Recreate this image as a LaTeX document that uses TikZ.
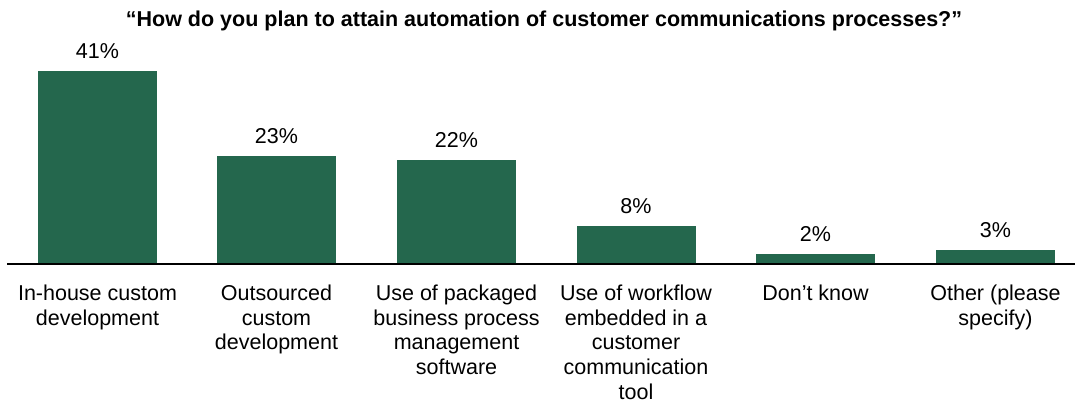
\documentclass[tikz,border=0pt]{standalone}
\usepackage{fontspec}
\setmainfont{Liberation Sans}
\usetikzlibrary{positioning}

\definecolor{bargreen}{RGB}{36,103,77}

\tikzset{
  bar/.style = {fill = bargreen, draw = none, minimum width = 119pt, inner sep = 0pt, anchor = south},
  value/.style = {inner sep = 0pt, font = \fontsize{21.5}{25}\selectfont},
  category/.style = {inner sep = 0pt, align = center, font = \fontsize{21.5}{24.75}\selectfont},
}

\begin{document}
\begin{tikzpicture}[x = 1pt, y = -1pt]
    \useasboundingbox (0, 0) rectangle (1075, 405);
    \node[anchor = base, inner sep = 0pt, font = \bfseries\fontsize{21.5}{24}\selectfont] (title) at (544, 26) {“How do you plan to attain automation of customer communications processes?”};
    \node[bar, minimum height = 193pt] (in-house) at (97.5, 264) {};
    \node[bar, minimum height = 108pt] (outsourced) at (276.5, 264) {};
    \node[bar, minimum height = 103.5pt] (packaged) at (456.5, 264) {};
    \node[bar, minimum height = 38pt] (workflow) at (636, 264) {};
    \node[bar, minimum height = 9.5pt] (dont know) at (815.5, 264) {};
    \node[bar, minimum height = 13.5pt] (other) at (995.5, 264) {};
    \coordinate (axis start) at (7, 264);
    \coordinate (axis end) at (1075, 264);
    \draw[line width = 2pt] (axis start) -- (axis end);
    \node[value, above = 12pt of in-house] (in-house value) {41\%};
    \node[value, above = 12pt of outsourced] (outsourced value) {23\%};
    \node[value, above = 12pt of packaged] (packaged value) {22\%};
    \node[value, above = 12pt of workflow] (workflow value) {8\%};
    \node[value, above = 12pt of dont know] (dont know value) {2\%};
    \node[value, above = 12pt of other] (other value) {3\%};
    \node[category, below = 20.5pt of in-house] (in-house label) {In-house custom \\ development};
    \node[category, below = 20.5pt of outsourced] (outsourced label) {Outsourced \\ custom \\ development};
    \node[category, below = 20.5pt of packaged] (packaged label) {Use of packaged \\ business process \\ management \\ software};
    \node[category, below = 20.5pt of workflow] (workflow label) {Use of workflow \\ embedded in a \\ customer \\ communication \\ tool};
    \node[category, below = 20.5pt of dont know] (dont know label) {Don’t know};
    \node[category, below = 20.5pt of other] (other label) {Other (please \\ specify)};
\end{tikzpicture}
\end{document}
